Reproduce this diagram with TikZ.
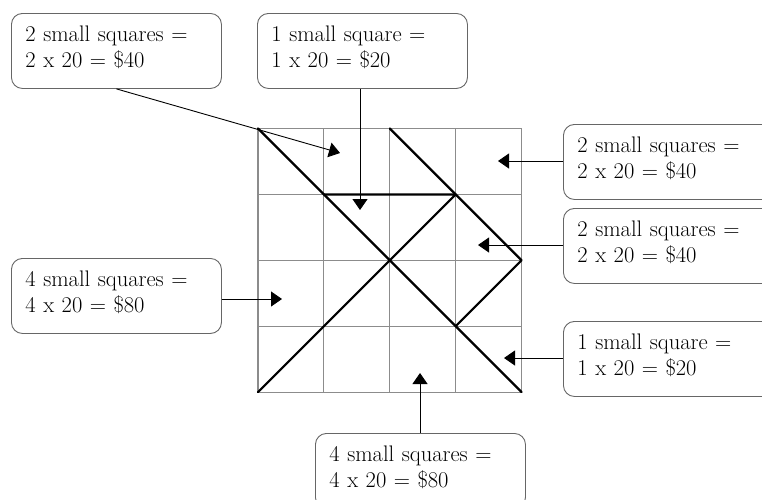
\documentclass[tikz,border=0pt]{standalone}
\usetikzlibrary{arrows.meta,calc}
\begin{document}
\begin{tikzpicture}[x=1pt,y=-1pt,
  box/.style={draw=black!60, line width=0.9pt, rounded corners=11pt,
    text width=182pt, inner xsep=14pt, inner ysep=0pt, minimum height=75pt,
    align=left, anchor=north west, font=\fontsize{22.5}{26}\selectfont,
    execute at end node={\rule[-8pt]{0pt}{8pt}}},
  gridline/.style={draw=black!45, line width=1.1pt},
  thick line/.style={draw=black, line width=2.2pt, line cap=round, line join=round},
  pointer/.style={draw=black, line width=0.9pt, -{Triangle[length=11pt,width=15pt]}}]
\clip (0,0) rectangle (762,499);
\fill[white] (0,0) rectangle (762,499);
% grid
\foreach \i in {0,...,4} {
  \draw[gridline] ({258+\i*65.9},128.5) -- ({258+\i*65.9},392.1);
  \draw[gridline] (258,{128.5+\i*65.9}) -- (521.6,{128.5+\i*65.9});
}
\foreach \i in {0,...,4} {
  \foreach \j in {0,...,4} {
    \coordinate (g-\i-\j) at ({258+\i*65.9},{392.1-\j*65.9});
  }
}
% thick lines
\draw[thick line] (g-0-4) -- (g-4-0);
\draw[thick line] (g-2-4) -- (g-4-2) -- (g-3-1);
\draw[thick line] (g-1-3) -- (g-3-3) -- (g-0-0);
% boxes
\node[box] (b1) at (11,13) {2 small squares =\\2 x 20 = \$40};
\node[box] (b2) at (257,13) {1 small square =\\1 x 20 = \$20};
\node[box] (r1) at (563,124) {2 small squares =\\2 x 20 = \$40};
\node[box] (r2) at (563,208) {2 small squares =\\2 x 20 = \$40};
\node[box] (r3) at (563,321) {1 small square =\\1 x 20 = \$20};
\node[box] (l1) at (11,258) {4 small squares =\\4 x 20 = \$80};
\node[box] (bb) at (315,433) {4 small squares =\\4 x 20 = \$80};
% arrow tips
\coordinate (t1) at (340,153);
\coordinate (t2) at (360,210);
\coordinate (t3) at (498,161);
\coordinate (t4) at (478,245);
\coordinate (t5) at (504,358);
\coordinate (t6) at (282,299);
\coordinate (t7) at (420,373);
% arrows
\draw[pointer] (b1.south) -- (t1);
\draw[pointer] (b2.south -| t2) -- (t2);
\draw[pointer] (r1.west |- t3) -- (t3);
\draw[pointer] (r2.west |- t4) -- (t4);
\draw[pointer] (r3.west |- t5) -- (t5);
\draw[pointer] (l1.east |- t6) -- (t6);
\draw[pointer] (bb.north -| t7) -- (t7);
\end{tikzpicture}
\end{document}
